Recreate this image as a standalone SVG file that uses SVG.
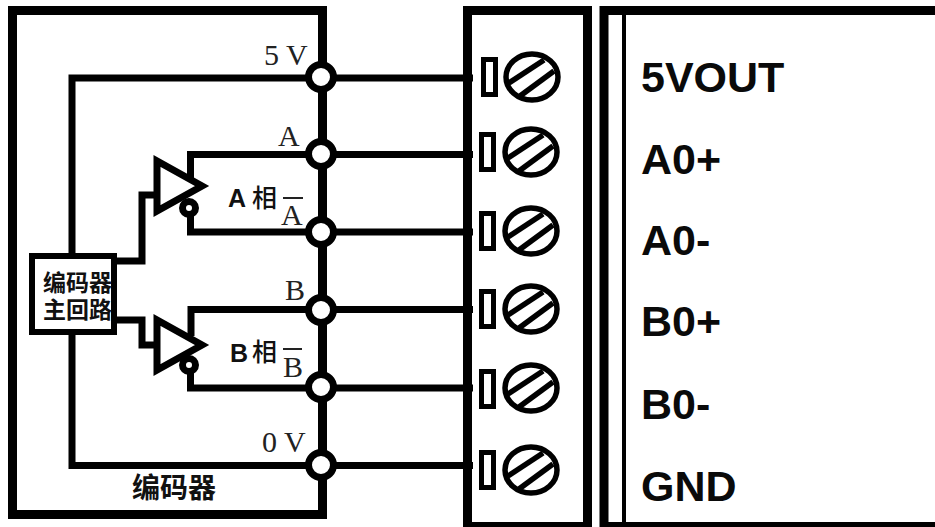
<svg xmlns="http://www.w3.org/2000/svg" width="935" height="527" viewBox="0 0 935 527">
<style>
.w{fill:none;stroke:#000;stroke-width:7}
.t{fill:none;stroke:#000;stroke-width:9}
.c{fill:#fff;stroke:#000;stroke-width:7}
.g{fill:#fff;stroke:#000;stroke-width:7}
.r{fill:#fff;stroke:#000;stroke-width:5}
.s{fill:#fff;stroke:#000;stroke-width:5.500}
.st{stroke:#000;stroke-width:5.500}
.ser{font-family:"Liberation Serif","Noto Sans CJK SC",serif;font-size:30px;fill:#222}
.zh{font-family:"Noto Sans CJK SC",sans-serif;fill:#111}
.pin{font-family:"Liberation Sans",Arial,sans-serif;font-weight:700;font-size:43px;fill:#0a0a0a}
.ph{font-family:"Liberation Sans",Arial,sans-serif;font-weight:700;font-size:25px;fill:#111}
</style>
<defs>
<g id="screw">
<ellipse cx="0" cy="0" rx="26" ry="23" class="s"/>
<line x1="-23" y1="6" x2="12" y2="-17" class="st"/>
<line x1="-12" y1="19" x2="22" y2="-6" class="st"/>
</g>
</defs>
<rect width="935" height="527" fill="#fff"/>
<g id="encoder-frame">
<rect class="t" x="12.500" y="10.500" width="310" height="504"/>
<text class="zh" x="132" y="498" font-size="28" font-weight="700">编码器</text>
</g>
<g id="terminal-block">
<rect class="t" x="467.500" y="10.500" width="120" height="516"/>
</g>
<g id="signal-panel">
<path class="t" d="M945 526.500H604V10.500H945"/>
<line x1="624" y1="12" x2="624" y2="524" stroke="#000" stroke-width="4"/>
</g>
<g id="connectors">
<path class="w" d="M473 78H72V465.500H473"/>
<path class="w" d="M473 154.500H190.500V178"/>
<path class="w" d="M473 232H190.500V212"/>
<path class="w" d="M473 309.500H191V336"/>
<path class="w" d="M473 388H190.500V370"/>
<path class="w" d="M117 261H142V195H157"/>
<path class="w" d="M117 320H142V345H157"/>
</g>
<g id="main-circuit">
<rect x="32" y="256" width="82" height="76" fill="#fff" stroke="#000" stroke-width="6"/>
<text class="zh" font-size="23" font-weight="600"><tspan x="43" y="291">编码器</tspan><tspan x="43" y="318">主回路</tspan></text>
</g>
<g id="buffer-a">
<polygon class="g" points="157,161 157,211 202,186"/>
<circle class="g" cx="189" cy="208" r="6.500" stroke-width="6"/>
<text class="ph" x="228" y="207">A</text>
<text class="zh" x="252" y="207" font-size="25" font-weight="500">相</text>
</g>
<g id="buffer-b">
<polygon class="g" points="157,320 157,370 202,345"/>
<circle class="g" cx="189" cy="365" r="6.500" stroke-width="6"/>
<text class="ph" x="230" y="362">B</text>
<text class="zh" x="252" y="361" font-size="25" font-weight="500">相</text>
</g>
<g id="node-5v"><text class="ser" x="264" y="65">5 V</text><circle class="c" cx="321" cy="77" r="12.500"/></g>
<g id="node-a"><text class="ser" x="278" y="146">A</text><circle class="c" cx="321" cy="154" r="12.500"/></g>
<g id="node-an"><text class="ser" x="281" y="225">A</text><line x1="283" y1="198" x2="303" y2="198" stroke="#222" stroke-width="2"/><circle class="c" cx="321" cy="232" r="12.500"/></g>
<g id="node-b"><text class="ser" x="285" y="300">B</text><circle class="c" cx="321" cy="310" r="12.500"/></g>
<g id="node-bn"><text class="ser" x="283" y="377">B</text><line x1="283" y1="349" x2="302" y2="349" stroke="#222" stroke-width="2"/><circle class="c" cx="321" cy="387" r="12.500"/></g>
<g id="node-0v"><text class="ser" x="262" y="452">0 V</text><circle class="c" cx="321" cy="465" r="12.500"/></g>
<g id="term-1"><rect class="r" x="483.500" y="59.500" width="12" height="35"/><use href="#screw" x="532" y="77"/></g>
<g id="term-2"><rect class="r" x="481.500" y="134.500" width="12" height="35"/><use href="#screw" x="531" y="152"/></g>
<g id="term-3"><rect class="r" x="481.500" y="213.500" width="12" height="35"/><use href="#screw" x="531" y="231"/></g>
<g id="term-4"><rect class="r" x="481.500" y="291.500" width="12" height="35"/><use href="#screw" x="531" y="309"/></g>
<g id="term-5"><rect class="r" x="481.500" y="371.500" width="12" height="35"/><use href="#screw" x="531" y="388"/></g>
<g id="term-6"><rect class="r" x="481.500" y="452.500" width="12" height="35"/><use href="#screw" x="531" y="470"/></g>
<g id="labels">
<text class="pin" x="641" y="92">5VOUT</text>
<text class="pin" x="641" y="174">A0+</text>
<text class="pin" x="641" y="255">A0-</text>
<text class="pin" x="641" y="336">B0+</text>
<text class="pin" x="641" y="419">B0-</text>
<text class="pin" x="641" y="501">GND</text>
</g>
</svg>
